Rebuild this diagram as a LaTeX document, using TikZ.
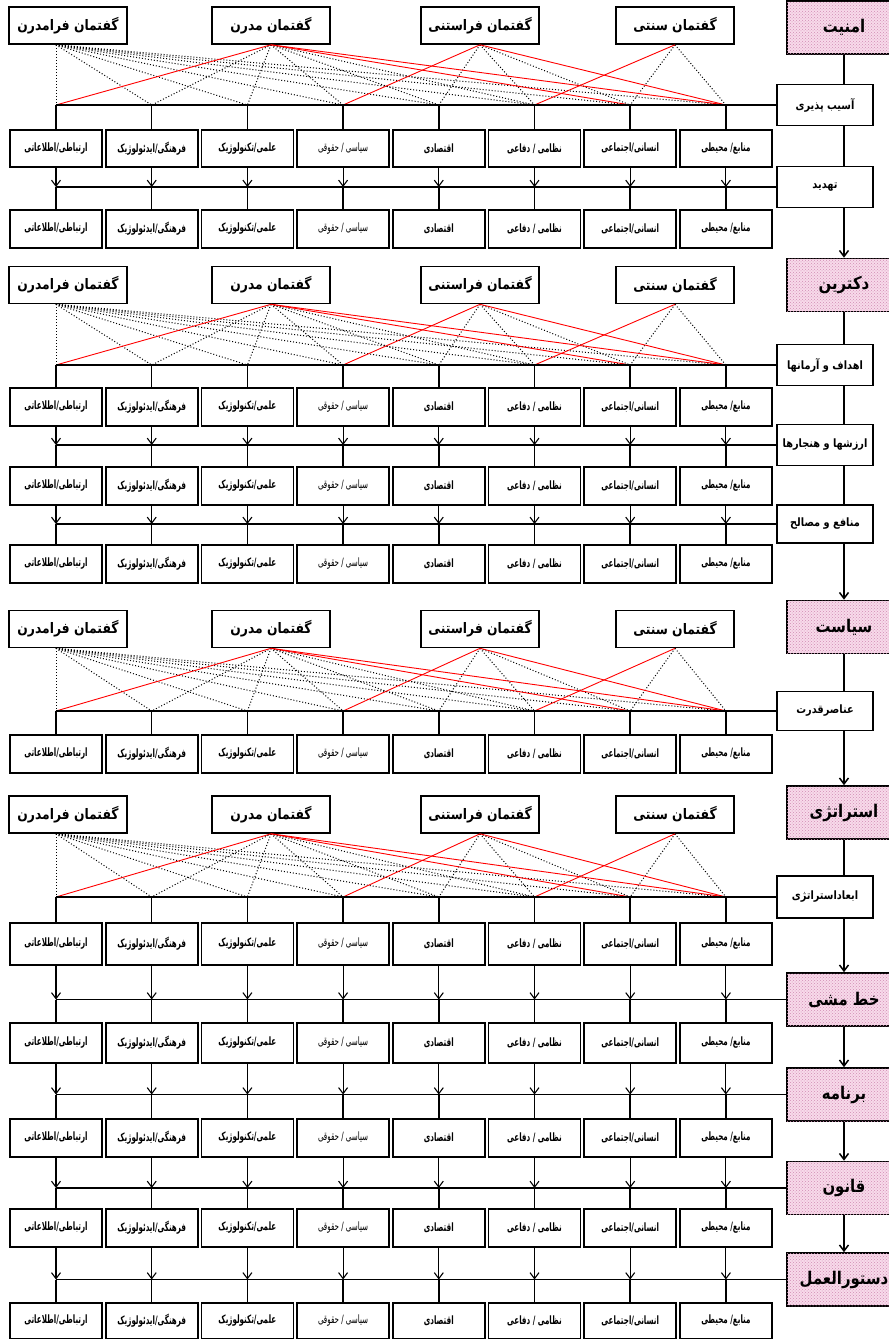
\documentclass[tikz,border=0pt]{standalone}
\usepackage{fontspec}
\usetikzlibrary{arrows.meta,patterns}
\TeXXeTstate=1
\newfontfamily\farsi[Script=Arabic,FakeStretch=0.85]{DejaVu Sans}
\newfontfamily\farsinarrow[Script=Arabic,FakeStretch=0.62]{DejaVu Sans}

\definecolor{stagepink}{RGB}{248,218,234}
\definecolor{stagedot}{RGB}{208,140,180}

% labels of the eight columns, left to right
\newcommand{\catname}[1]{\ifcase#1 ارتباطی/اطلاعاتی\or فرهنگی/ایدئولوژیک\or علمی/تکنولوژیک\or {\mdseries سیاسی / حقوقی}\or اقتصادی\or نظامی / دفاعی\or انسانی/اجتماعی\or منابع/ محیطی\fi}

\tikzset{
fa/.style={execute at begin node=\beginR, execute at end node=\endR},
disc/.style={fa, draw, line width=1.6pt, minimum width=118pt, minimum height=37pt, font=\farsi\bfseries\fontsize{14.5}{16}\selectfont},
cat/.style={fa, draw, line width=1.6pt, minimum width=92pt, inner sep=1pt, font=\farsinarrow\bfseries\fontsize{11.5}{13}\selectfont},
stage/.style={fa, draw, line width=1.6pt, fill=stagepink, postaction={pattern=crosshatch dots, pattern color=stagedot}, minimum width=114pt, minimum height=53pt, font=\farsi\bfseries\fontsize{17.5}{19}\selectfont},
sub/.style={fa, draw, line width=1.6pt, fill=white, minimum width=96pt, minimum height=41pt, inner sep=2pt, font=\farsi\bfseries\fontsize{11.5}{13}\selectfont},
busline/.style={line width=1.5pt},
mainline/.style={line width=1.5pt},
mainarrow/.style={line width=1.5pt, -{Straight Barb[length=6pt,width=9pt]}},
feed/.style={line width=1.1pt, -{Straight Barb[length=6pt,width=9pt]}},
dotline/.style={line width=1pt, dash pattern=on 1pt off 2pt},
redline/.style={red, line width=0.9pt}
}

% one row of the eight column boxes
\newcommand{\catrow}[3]{%
\foreach \i in {0,...,7}
  \node[cat, minimum height=#3] (#1-\i) at ({56+95.7*\i},#2) {\catname{\i}};}

% the four discourses
\newcommand{\discrow}[2]{%
\node[disc] (#1a) at (68,#2) {گفتمان فرامدرن};
\node[disc] (#1b) at (271,#2) {گفتمان مدرن};
\node[disc] (#1c) at (480,#2) {گفتمان فراستنی};
\node[disc] (#1d) at (675,#2) {گفتمان سنتی};}

% lines from the discourses down to the bus
\newcommand{\fan}[3]{%
\foreach \j in {0,...,7}
  \draw[dotline] (#1a.south -| #3-0.north) -- (#3-\j.north |- #2.west);
\foreach \j in {1,...,5}
  \draw[dotline] (#1b.south) -- (#3-\j.north |- #2.west);
\foreach \j in {4,5,6}
  \draw[dotline] (#1c.south) -- (#3-\j.north |- #2.west);
\foreach \j in {6,7}
  \draw[dotline] (#1d.south) -- (#3-\j.north |- #2.west);
\foreach \j in {0,6,7}
  \draw[redline] (#1b.south) -- (#3-\j.north |- #2.west);
\foreach \j in {3,7}
  \draw[redline] (#1c.south) -- (#3-\j.north |- #2.west);
\draw[redline] (#1d.south) -- (#3-5.north |- #2.west);}

% bus from a box of the right column to a row
\newcommand{\bus}[2]{%
\draw[busline] (#2-0.north |- #1.west) -- (#1.west);
\foreach \j in {0,...,7}
  \draw[busline] (#2-\j.north |- #1.west) -- (#2-\j.north);}

% arrows from a row into the next bus
\newcommand{\feed}[2]{%
\foreach \j in {0,...,7}
  \draw[feed] (#1-\j.south) -- (#1-\j.south |- #2.west);}

\begin{document}
\begin{tikzpicture}[x=1pt, y=-1pt]
\useasboundingbox (0,0) rectangle (889,1339);

% security
\node[stage] (amniat) at (844,27.5) {امنیت};
\node[sub] (asib) at (825,105) {آسیب پذیری};
\node[sub] (tahdid) at (825,187) {تهدید};
\discrow{s1}{25.5}
\catrow{s1r1}{148.5}{37pt}
\catrow{s1r2}{229}{38pt}
\fan{s1}{asib}{s1r1}
\bus{asib}{s1r1}
\feed{s1r1}{tahdid}
\bus{tahdid}{s1r2}

% doctrine
\node[stage] (doktrin) at (844,285) {دکترین};
\node[sub] (ahdaf) at (825,365) {اهداف و آرمانها};
\node[sub] (arzesh) at (825,445) {ارزشها و هنجارها};
\node[sub, minimum height=38pt] (manafe) at (825,524) {منافع و مصالح};
\discrow{s2}{285}
\catrow{s2r1}{407}{38pt}
\catrow{s2r2}{486}{38pt}
\catrow{s2r3}{564}{38pt}
\fan{s2}{ahdaf}{s2r1}
\bus{ahdaf}{s2r1}
\feed{s2r1}{arzesh}
\bus{arzesh}{s2r2}
\feed{s2r2}{manafe}
\bus{manafe}{s2r3}

% policy
\node[stage] (siasat) at (844,627) {سیاست};
\node[sub, minimum height=39pt] (anasor) at (825,711) {عناصرقدرت};
\discrow{s3}{629}
\catrow{s3r1}{754}{38pt}
\fan{s3}{anasor}{s3r1}
\bus{anasor}{s3r1}

% strategy
\node[stage] (strategy) at (844,812.5) {استراتژی};
\node[sub, minimum height=42pt] (abad) at (825,897) {ابعاداستراتژی};
\node[stage] (khat) at (844,999.5) {خط مشی};
\node[stage] (barname) at (844,1094.5) {برنامه};
\node[stage] (ghanun) at (844,1188) {قانون};
\node[stage] (dastur) at (844,1279.5) {دستورالعمل};
\discrow{s4}{814.5}
\catrow{s4r1}{944}{42pt}
\catrow{s4r2}{1043}{40pt}
\catrow{s4r3}{1138}{38pt}
\catrow{s4r4}{1228}{38pt}
\catrow{s4r5}{1321}{36pt}
\fan{s4}{abad}{s4r1}
\bus{abad}{s4r1}
\feed{s4r1}{khat}
\bus{khat}{s4r2}
\feed{s4r2}{barname}
\bus{barname}{s4r3}
\feed{s4r3}{ghanun}
\bus{ghanun}{s4r4}
\feed{s4r4}{dastur}
\bus{dastur}{s4r5}

% main column
\draw[mainline] (amniat) -- (amniat |- asib.north);
\draw[mainline] (amniat |- asib.south) -- (amniat |- tahdid.north);
\draw[mainarrow] (amniat |- tahdid.south) -- (doktrin);
\draw[mainline] (doktrin) -- (doktrin |- ahdaf.north);
\draw[mainline] (doktrin |- ahdaf.south) -- (doktrin |- arzesh.north);
\draw[mainline] (doktrin |- arzesh.south) -- (doktrin |- manafe.north);
\draw[mainarrow] (doktrin |- manafe.south) -- (siasat);
\draw[mainline] (siasat) -- (siasat |- anasor.north);
\draw[mainarrow] (siasat |- anasor.south) -- (strategy);
\draw[mainline] (strategy) -- (strategy |- abad.north);
\draw[mainarrow] (strategy |- abad.south) -- (khat);
\draw[mainarrow] (khat) -- (barname);
\draw[mainarrow] (barname) -- (ghanun);
\draw[mainarrow] (ghanun) -- (dastur);
\end{tikzpicture}
\end{document}
